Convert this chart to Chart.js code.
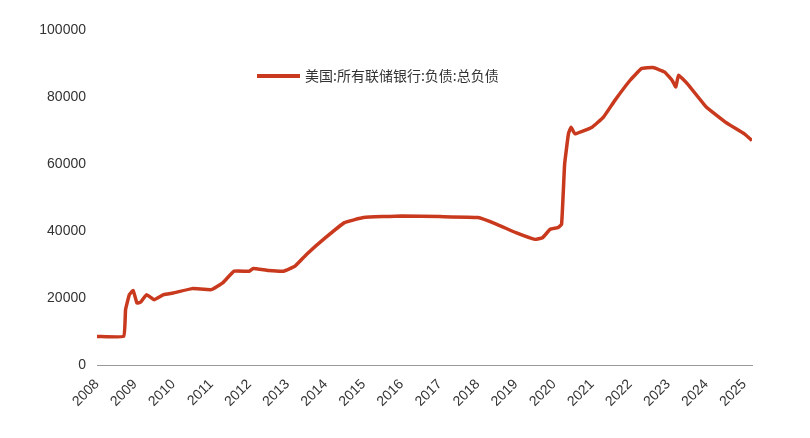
<!DOCTYPE html>
<html>
<head>
<meta charset="UTF-8">
<script src="https://cdn.jsdelivr.net/npm/chart.js"></script>
<style>
    body { margin: 0; background: #fff; }
    #wrap { width: 810px; height: 438px; }
</style>
</head>
<body>
<div id="wrap"><canvas id="c"></canvas></div>
<script>
    const seriesName = '美国:所有联储银行:负债:总负债';
    const tickYears = [2008, 2009, 2010, 2011, 2012, 2013, 2014, 2015, 2016, 2017, 2018, 2019, 2020, 2021, 2022, 2023, 2024, 2025];
    const years = [2008, 2008.7, 2008.75, 2008.85, 2008.95, 2009.05, 2009.15, 2009.3, 2009.5, 2009.75, 2010, 2010.5, 2011, 2011.3, 2011.6, 2012, 2012.1, 2012.5, 2012.9, 2013.2, 2013.5, 2014, 2014.5, 2015, 2016, 2017, 2018, 2018.5, 2019, 2019.5, 2019.7, 2019.9, 2020.1, 2020.2, 2020.28, 2020.38, 2020.45, 2020.55, 2021, 2021.3, 2021.6, 2022, 2022.3, 2022.6, 2022.9, 2023.1, 2023.2, 2023.27, 2023.5, 2024, 2024.5, 2025, 2025.2];
    const totals = [8500, 8600, 16500, 21000, 22200, 18500, 18800, 21000, 19500, 21000, 21500, 22800, 22500, 24500, 28000, 28000, 28800, 28200, 28000, 29500, 33000, 38000, 42500, 44000, 44500, 44300, 44000, 42000, 39500, 37500, 38000, 40500, 41000, 42000, 60000, 69000, 71000, 69000, 71000, 74000, 79000, 85000, 88500, 88800, 87500, 85000, 83000, 86500, 84000, 77000, 72500, 69000, 67000];
    const lineColor = '#c9391e';

    const legendPlugin = {
        id: 'inlineLegend',
        afterDraw(chart) {
            const ctx = chart.ctx;
            ctx.save();
            ctx.strokeStyle = lineColor;
            ctx.lineWidth = 4;
            ctx.beginPath();
            ctx.moveTo(257, 76);
            ctx.lineTo(300, 76);
            ctx.stroke();
            ctx.fillStyle = '#333';
            ctx.font = '14px "Noto Sans CJK SC"';
            ctx.textBaseline = 'middle';
            ctx.fillText(seriesName, 305, 76);
            ctx.restore();
        }
    };

    new Chart(document.getElementById('c'), {
        type: 'line',
        data: {
            datasets: [{
                label: seriesName,
                data: years.map((y, i) => ({ x: y, y: totals[i] })),
                borderColor: lineColor,
                borderWidth: 3.5,
                pointRadius: 0,
                tension: 0.1,
                fill: false
            }]
        },
        plugins: [legendPlugin],
        options: {
            responsive: true,
            maintainAspectRatio: false,
            animation: false,
            layout: { padding: { left: 0, right: 58, top: 30, bottom: 0 } },
            plugins: { legend: { display: false }, tooltip: { enabled: false } },
            scales: {
                x: {
                    type: 'linear',
                    min: 2008, max: 2025.2,
                    afterBuildTicks: s => { s.ticks = tickYears.map(v => ({ value: v })); },
                    afterFit: s => { s.height = 73; },
                    grid: { display: false },
                    border: { color: '#999' },
                    ticks: {
                        autoSkip: false, maxRotation: 45, minRotation: 45,
                        color: '#333', font: { size: 14, family: 'Liberation Sans' },
                        callback: v => String(v)
                    }
                },
                y: {
                    min: 0, max: 100000,
                    afterFit: s => { s.width = 97; },
                    grid: { display: false },
                    border: { display: false },
                    ticks: { stepSize: 20000, color: '#333', font: { size: 14, family: 'Liberation Sans' },
                        callback: v => String(v) }
                }
            }
        }
    });
</script>
</body>
</html>
